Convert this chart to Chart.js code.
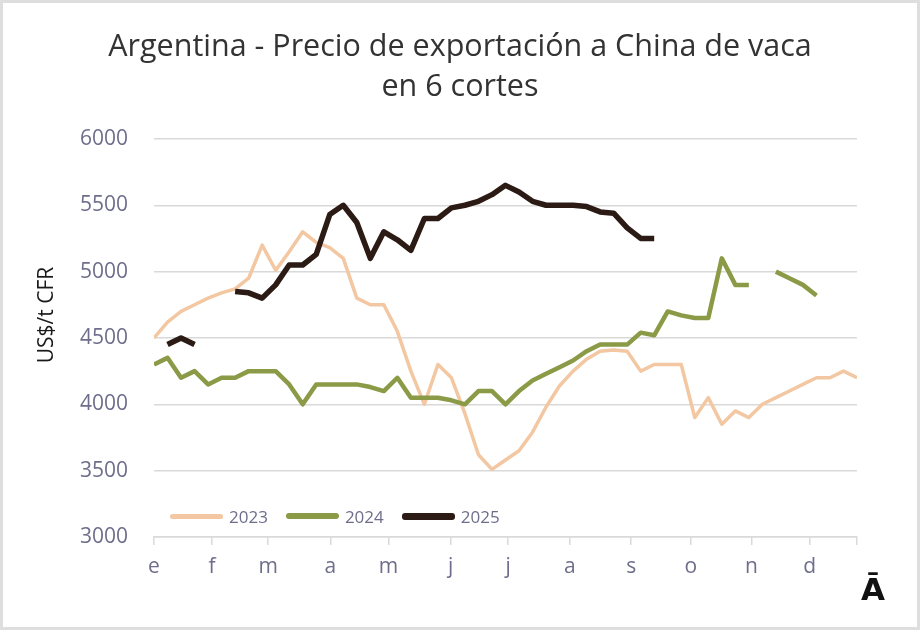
<!DOCTYPE html>
<html>
<head>
<meta charset="utf-8">
<title>Argentina - Precio de exportación a China de vaca en 6 cortes</title>
<script src="https://cdn.jsdelivr.net/npm/chart.js@4.4.1/dist/chart.umd.min.js"></script>
<style>
body{margin:0;background:#fff;}
#wrap{position:relative;width:920px;height:630px;box-sizing:border-box;border:3px solid #dedede;background:#fff;overflow:hidden;}
#wrap canvas{display:block;}
#ytitle{position:absolute;left:-58px;top:299px;width:200px;height:26px;line-height:26px;text-align:center;transform:rotate(-90deg);font-family:"Open Sans",sans-serif;font-size:21px;color:#1a1a1a;}
#legend{position:absolute;left:167px;top:500px;height:26px;display:flex;align-items:center;font-family:"Open Sans",sans-serif;font-size:17px;color:#6e6e8c;}
#legend .item{display:flex;align-items:center;margin-right:18px;}
#legend .swatch{display:inline-block;width:53px;border-radius:3px;margin-right:6px;}
#logo{position:absolute;left:858px;top:571px;font-family:"DejaVu Sans",sans-serif;font-weight:bold;font-size:31px;line-height:1;color:#111;}
</style>
</head>
<body>
<div id="wrap">
	<canvas id="chart"></canvas>
	<div id="ytitle">US$/t CFR</div>
	<div id="legend"></div>
	<div id="logo">Ā</div>
</div>
<script>
// semanas del año (eje x)
var weeks = [0,1,2,3,4,5,6,7,8,9,10,11,12,13,14,15,16,17,18,19,20,21,22,23,24,25,
	26,27,28,29,30,31,32,33,34,35,36,37,38,39,40,41,42,43,44,45,46,47,48,49,50,51,52]

// meses: posicion (en semanas) y etiqueta
var monthPos = [0, 4.3, 8.45, 13.05, 17.35, 21.95, 26.2, 30.75, 35.3, 39.7, 44.2, 48.5, 52]
var monthLabels = ['e','f','m','a','m','j','j','a','s','o','n','d','']

var yTicks = [3000, 3500, 4000, 4500, 5000, 5500, 6000]

// US$/t CFR
var y2023 = [4500, 4620, 4700, 4750, 4800, 4840, 4870, 4950, 5200, 5010, 5150, 5300, 5220,
	5180, 5100, 4800, 4750, 4750, 4550, 4250, 4000, 4300, 4200, 3930, 3620, 3510, 3580,
	3650, 3790, 3980, 4140, 4250, 4340, 4400, 4410, 4400, 4250, 4300, 4300, 4300, 3900,
	4050, 3850, 3950, 3900, 4000, 4050, 4100, 4150, 4200, 4200, 4250, 4200]

var y2024 = [4300, 4350, 4200, 4250, 4150, 4200, 4200, 4250, 4250, 4250, 4150, 4000, 4150,
	4150, 4150, 4150, 4130, 4100, 4200, 4050, 4050, 4050, 4030, 4000, 4100, 4100, 4000,
	4100, 4180, 4230, 4280, 4330, 4400, 4450, 4450, 4450, 4540, 4520, 4700, 4670, 4650,
	4650, 5100, 4900, 4900, null, 5000, 4950, 4900, 4820, null, null, null]

var y2025 = [null, 4450, 4500, 4450, null, null, 4850, 4840, 4800, 4900, 5050, 5050, 5130,
	5430, 5500, 5370, 5100, 5300, 5240, 5160, 5400, 5400, 5480, 5500, 5530, 5580, 5650,
	5600, 5530, 5500, 5500, 5500, 5490, 5450, 5440, 5330, 5250, 5250, null, null,
	null, null, null, null, null, null, null, null, null, null, null, null, null]

var seriesNames = ['2023', '2024', '2025']
var seriesColors = ['#f2c7a1', '#8b9a46', '#2b1b14']
var seriesWidths = [3.5, 4.5, 5.5]

var tickColor = '#6e6e8c'
var gridColor = '#d9d9d9'

function buildLegend(){
	var legend = document.getElementById('legend')
	legend.innerHTML = ''
	for(var i = 0; i < seriesNames.length; i++){
		legend.innerHTML += `<span class="item">
				<span class="swatch" style="height:${seriesWidths[i] + 1.5}px;background:${seriesColors[i]}"></span>
				<span>${seriesNames[i]}</span>
			</span>`
	}
}

buildLegend()

const ctx = document.getElementById('chart').getContext('2d')
const chart = new Chart(ctx, {
	type: 'line',
	data: {
		labels: weeks,
		datasets: [
			{ label: seriesNames[2], data: y2025, borderColor: seriesColors[2], borderWidth: seriesWidths[2], order: 1 },
			{ label: seriesNames[1], data: y2024, borderColor: seriesColors[1], borderWidth: seriesWidths[1], order: 2 },
			{ label: seriesNames[0], data: y2023, borderColor: seriesColors[0], borderWidth: seriesWidths[0], order: 3 }
		]
	},
	options: {
		responsive: true,
		maintainAspectRatio: false,
		animation: false,
		spanGaps: false,
		layout: {
			padding: { left: 60, right: 60, top: 0, bottom: 0 }
		},
		elements: {
			point: { radius: 0 },
			line: { tension: 0, borderJoinStyle: 'round', borderCapStyle: 'butt' }
		},
		scales: {
			x: {
				type: 'linear',
				min: 0,
				max: 52,
				afterBuildTicks: function(scale){
					scale.ticks = monthPos.map(function(v){ return { value: v } })
				},
				afterFit: function(scale){
					scale.height = 90
				},
				grid: {
					display: true,
					drawOnChartArea: false,
					drawTicks: true,
					tickLength: 8,
					color: gridColor,
					lineWidth: 1.5
				},
				border: { display: true, color: gridColor, width: 1.5 },
				ticks: {
					autoSkip: false,
					maxRotation: 0,
					padding: 9,
					color: tickColor,
					font: { family: 'Open Sans', size: 21 },
					callback: function(value, index){ return monthLabels[index] }
				}
			},
			y: {
				min: 3000,
				max: 6000,
				afterBuildTicks: function(scale){
					scale.ticks = yTicks.map(function(v){ return { value: v } })
				},
				afterFit: function(scale){
					scale.width = 91
				},
				grid: { color: gridColor, lineWidth: 1.5, drawTicks: false },
				border: { display: false },
				ticks: {
					padding: 26,
					color: tickColor,
					font: { family: 'Open Sans', size: 21 },
					callback: function(value){ return String(value) }
				}
			}
		},
		plugins: {
			legend: { display: false },
			tooltip: { enabled: false },
			title: {
				display: true,
				text: ['Argentina - Precio de exportación a China de vaca', 'en 6 cortes'],
				color: '#333333',
				font: { family: 'Open Sans', size: 30.5, weight: 'normal', lineHeight: 1.31 },
				padding: { top: 24, bottom: 32 }
			}
		}
	}
})
</script>
</body>
</html>
